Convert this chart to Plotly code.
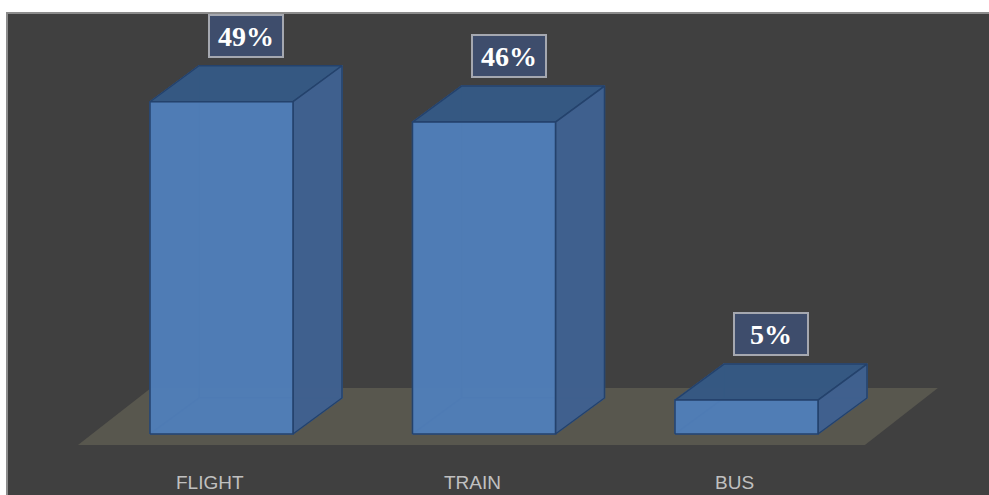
import plotly.graph_objects as go

# ---- data ----
categories = ["FLIGHT", "TRAIN", "BUS"]
values = [49, 46, 5]
value_labels = ["49%", "46%", "5%"]

# ---- visual constants (data units of the axes) ----
W = 0.2724      # half width of bar front face (category units)
DX = 0.1867     # 3D depth in x
DY = 5.31       # 3D depth in y (value units)
FLOOR_FRONT = -1.62
FLOOR_BACK = 6.78
FLOOR_X0 = -0.5467
FLOOR_X1 = 2.451
FLOOR_DX = 0.2781

FRONT = "rgba(80,125,182,0.88)"
SIDE = "rgba(62,95,140,0.93)"
TOP = "rgba(52,86,127,0.93)"
EDGE = "rgb(36,66,108)"
HIDDEN = "rgba(66,108,165,1)"
FLOOR = "rgb(88,87,78)"

fig = go.Figure()

def poly(xs, ys, fill, line_color=EDGE, lw=1.5):
    fig.add_trace(go.Scatter(
        x=xs + [xs[0]], y=ys + [ys[0]], mode="lines", fill="toself",
        fillcolor=fill, line=dict(color=line_color, width=lw),
        hoverinfo="skip", showlegend=False))

# floor
poly([FLOOR_X0, FLOOR_X1, FLOOR_X1 + FLOOR_DX, FLOOR_X0 + FLOOR_DX],
     [FLOOR_FRONT, FLOOR_FRONT, FLOOR_BACK, FLOOR_BACK], FLOOR, FLOOR, 0)

for i, v in enumerate(values):
    xl, xr = i - W, i + W
    # hidden faces (back, left, bottom)
    poly([xl + DX, xr + DX, xr + DX, xl + DX], [DY, DY, v + DY, v + DY], FRONT, HIDDEN, 1.2)
    poly([xl, xl + DX, xl + DX, xl], [0, DY, v + DY, v], FRONT, HIDDEN, 1.2)
    poly([xl, xr, xr + DX, xl + DX], [0, 0, DY, DY], FRONT, HIDDEN, 1.2)
    # visible faces
    poly([xl, xr, xr + DX, xl + DX], [v, v, v + DY, v + DY], TOP)
    poly([xr, xr + DX, xr + DX, xr], [0, DY, v + DY, v], SIDE)
    poly([xl, xr, xr, xl], [0, 0, v, v], FRONT)

annotations = []
for i, (v, lab) in enumerate(zip(values, value_labels)):
    annotations.append(dict(
        x=i + DX / 2, y=v + DY + 1.2, xref="x", yref="y",
        text="<b>%s</b>" % lab, showarrow=False, yanchor="bottom",
        font=dict(family="Liberation Serif", size=28, color="white"),
        bgcolor="rgb(62,77,108)", bordercolor="rgb(165,168,176)",
        borderwidth=2, borderpad=3, width=66, height=34))
    annotations.append(dict(
        x=i - 0.045, y=-7.1, xref="x", yref="y", text=categories[i],
        showarrow=False,
        font=dict(family="Liberation Sans", size=19, color="rgb(192,192,192)")))

fig.update_layout(
    width=989, height=495,
    margin=dict(l=7, r=0, t=13, b=0),
    paper_bgcolor="white", plot_bgcolor="rgb(64,64,64)",
    xaxis=dict(range=[-0.8171, 2.9238], visible=False, fixedrange=True),
    yaxis=dict(range=[-9.0, 62.09], visible=False, fixedrange=True),
    annotations=annotations,
    shapes=[dict(type="rect", xref="paper", yref="paper", x0=0, x1=1.05,
                 y0=-0.05, y1=1, line=dict(color="rgb(140,140,140)", width=2),
                 layer="above")],
)

fig.write_html("out.html", config={"displayModeBar": False},
               post_script="document.body.style.margin='0';document.body.style.overflow='hidden';")
